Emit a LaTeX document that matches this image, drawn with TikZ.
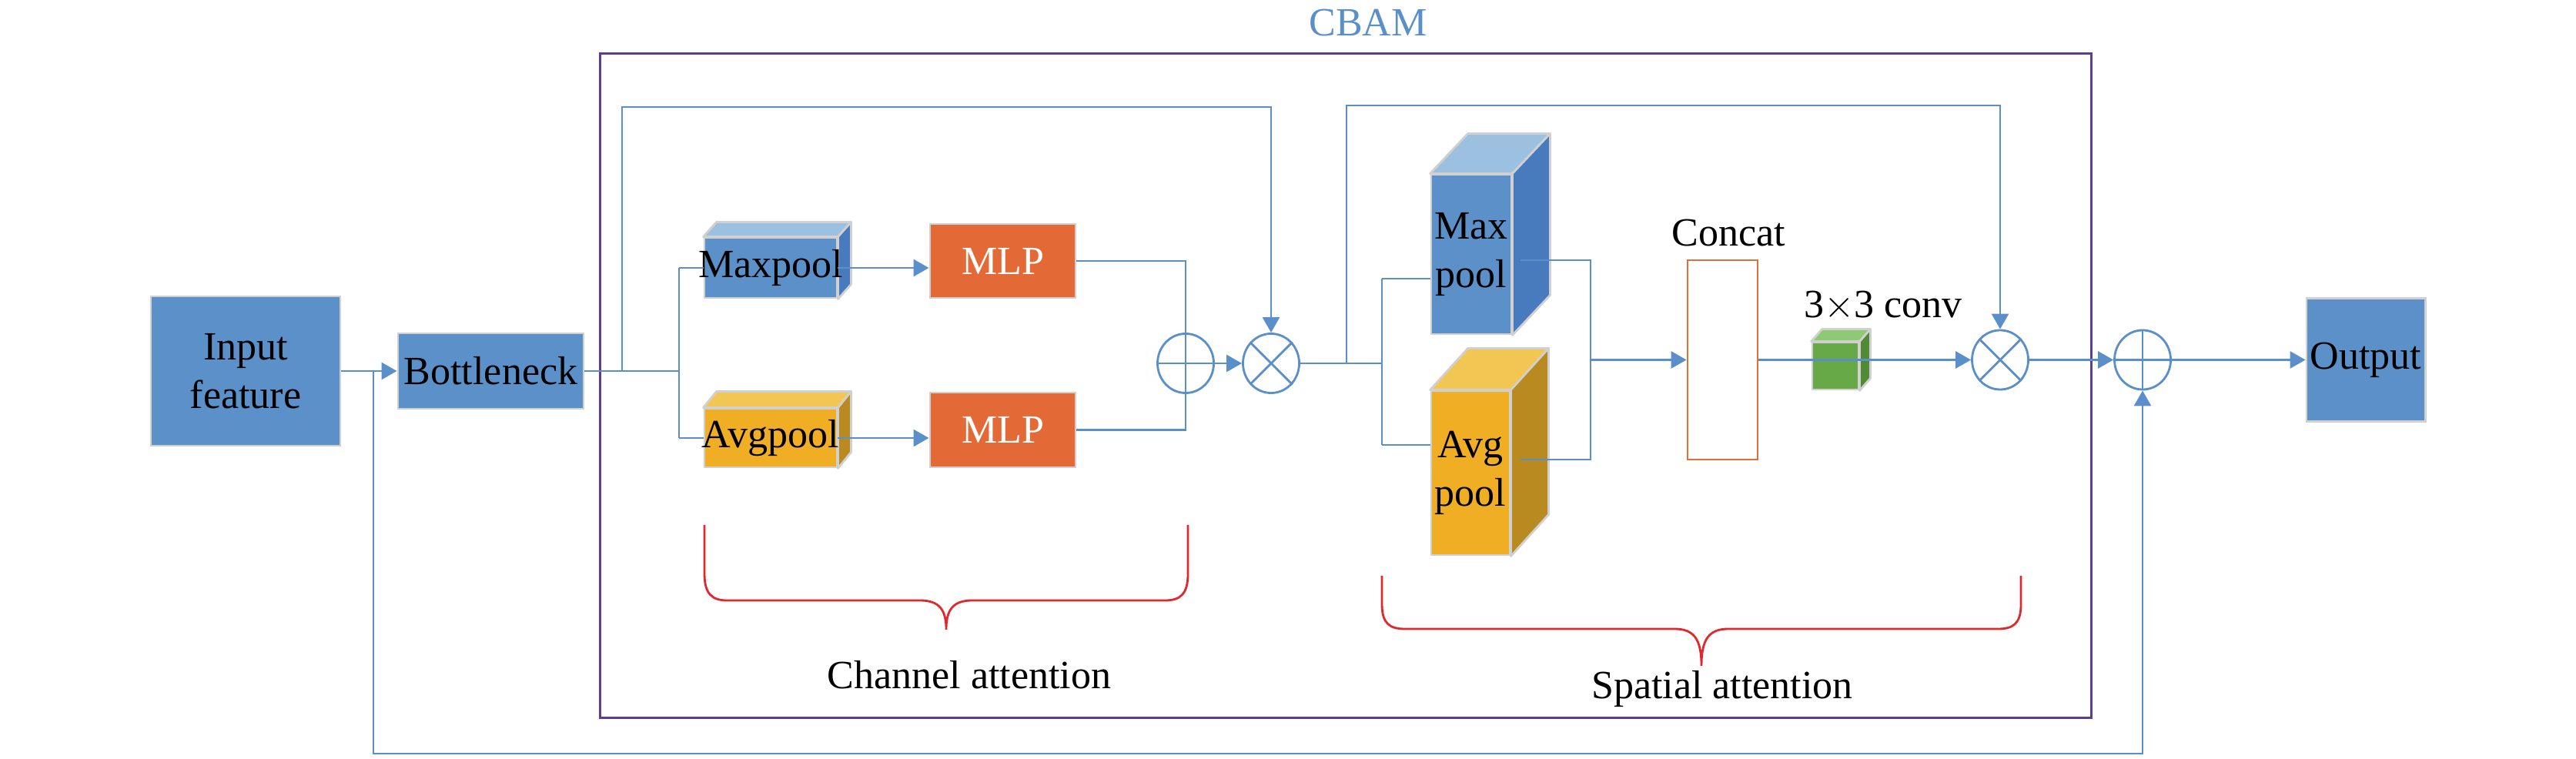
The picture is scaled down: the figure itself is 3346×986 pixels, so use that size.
\documentclass[tikz,border=0pt]{standalone}
\usepackage{fontspec}
\setmainfont{Liberation Serif}
\usetikzlibrary{arrows.meta,shapes.geometric}
\definecolor{conn}{RGB}{91,143,201}
\definecolor{boxblue}{RGB}{92,144,200}
\definecolor{bluef}{RGB}{92,144,200}
\definecolor{bluet}{RGB}{155,192,224}
\definecolor{blues}{RGB}{72,122,190}
\definecolor{yelf}{RGB}{240,174,36}
\definecolor{yelt}{RGB}{242,198,82}
\definecolor{yels}{RGB}{184,138,32}
\definecolor{grnf}{RGB}{103,169,71}
\definecolor{grnt}{RGB}{142,201,117}
\definecolor{grns}{RGB}{80,138,53}
\definecolor{mlpc}{RGB}{227,106,54}
\definecolor{edgegray}{RGB}{208,208,208}
\definecolor{cbamc}{RGB}{96,60,142}
\definecolor{bracec}{RGB}{225,40,45}
\definecolor{concatc}{RGB}{224,112,58}
\newcommand{\mycube}[9]{%
  \node[face,fill=#8f,minimum width=#4,minimum height=#5,inner sep=0pt] (#1) at (#2,#3) {};
  \filldraw[face,fill=#8t] (#1.north west) -- ([shift={(#6,-#7)}]#1.north west) -- ([shift={(#6,-#7)}]#1.north east) -- (#1.north east) -- cycle;
  \filldraw[face,fill=#8s] (#1.north east) -- ([shift={(#6,-#7)}]#1.north east) -- ([shift={(#6,-#7)}]#1.south east) -- (#1.south east) -- cycle;
  \node[align=center,inner sep=0pt] at (#1.center) {#9};
}
\begin{document}
\begin{tikzpicture}[x=0.01cm,y=-0.01cm,
  font=\fontsize{14.8pt}{18pt}\selectfont,
  conn/.style={draw=conn,line width=0.8pt},
  arr/.style={conn,-{Triangle[length=0.2cm,width=0.22cm]}},
  flatbox/.style={draw=edgegray,line width=0.8pt,fill=boxblue,inner sep=0pt,align=center},
  face/.style={draw=edgegray,line width=0.8pt,line join=round},
  opnode/.style={ellipse,draw=conn,line width=0.8pt,minimum width=0.73cm,minimum height=0.77cm,inner sep=0pt,fill=white},
  bracestyle/.style={draw=bracec,line width=0.8pt},
]
\useasboundingbox (0,0) rectangle (3346,986);

% CBAM frame
\node[draw=cbamc,line width=0.9pt,minimum width=19.36cm,minimum height=8.62cm,inner sep=0pt] (frame) at (1748,501) {};
\node[text=conn] (cbamlbl) at (1777,30) {CBAM};

% main boxes
\node[flatbox,minimum width=2.46cm,minimum height=1.94cm] (inp) at (319,482) {Input\\feature};
\node[flatbox,minimum width=2.41cm,minimum height=0.98cm] (bott) at (637.5,482) {Bottleneck};
\node[flatbox,minimum width=1.54cm,minimum height=1.60cm] (out) at (3073,467.5) {Output};

% channel attention cubes
\mycube{mp1}{1001}{348}{1.72cm}{0.78cm}{17}{19}{blue}{Maxpool}
\mycube{ap1}{1001}{569}{1.72cm}{0.76cm}{17}{21}{yel}{Avgpool}
\node[flatbox,fill=mlpc,text=white,minimum width=1.89cm,minimum height=0.96cm] (mlp1) at (1302.5,339) {MLP};
\node[flatbox,fill=mlpc,text=white,minimum width=1.89cm,minimum height=0.97cm] (mlp2) at (1302.5,558.5) {MLP};

% spatial cubes
\mycube{smp}{1911}{330.5}{1.04cm}{2.07cm}{49}{52}{blue}{Max\\pool}
\mycube{sap}{1910}{614.5}{1.02cm}{2.13cm}{49}{54}{yel}{Avg\\pool}
\node[draw=concatc,line width=0.8pt,fill=white,minimum width=0.91cm,minimum height=2.59cm,inner sep=0pt] (concat) at (2237.5,467.5) {};
\node (concatlbl) at (2245,303) {Concat};
\mycube{conv}{2384}{475.5}{0.60cm}{0.61cm}{14}{16}{grn}{}
\node (convlbl) at (2446,397) {3$\times$3 conv};

% operators
\node[opnode] (cadd) at (1540,472) {};
\node[opnode] (cmul) at (1651,472) {};
\node[opnode] (smul) at (2598,467.5) {};
\node[opnode] (fadd) at (2783,467.5) {};
\draw[conn] (cadd.north) -- (cadd.south) (cadd.west) -- (cadd.east);
\draw[conn] (fadd.north) -- (fadd.south) (fadd.west) -- (fadd.east);
\draw[conn] (cmul.45) -- (cmul.225) (cmul.135) -- (cmul.315);
\draw[conn] (smul.45) -- (smul.225) (smul.135) -- (smul.315);

% coordinates
\coordinate (bl) at (485,482);
\coordinate (bl2) at (485,979);
\coordinate (b1) at (882,482);
\coordinate (s1) at (808,482);
\coordinate (top1) at (808,139);
\coordinate (b2) at (1795,472);
\coordinate (bm) at (1795,362);
\coordinate (ba) at (1795,578);
\coordinate (s2) at (1749,472);
\coordinate (top2) at (1749,137);
\coordinate (m2) at (2066,338);
\coordinate (a2) at (2066,597);
\coordinate (c2) at (2066,467.5);

% connectors
\draw[arr] (inp.east) -- (bott.west);
\draw[arr] (bl) -- (bl2) -| (fadd.south);
\draw[conn] (bott.east) -- (b1);
\draw[conn] (b1 |- mp1.west) -- (b1 |- ap1.west);
\draw[conn] (b1 |- mp1.west) -- (mp1.west);
\draw[conn] (b1 |- ap1.west) -- (ap1.west);
\draw[arr] (s1) -- (top1) -| (cmul.north);
\draw[arr] (mp1.east) -- (mp1.east -| mlp1.west);
\draw[arr] (ap1.east) -- (ap1.east -| mlp2.west);
\draw[conn] (mlp1.east) -| (cadd.north);
\draw[conn] (mlp2.east) -| (cadd.south);
\draw[arr] (cadd.east) -- (cmul.west);
\draw[conn] (cmul.east) -- (b2);
\draw[conn] (bm) -- (ba);
\draw[conn] (bm) -- (bm -| smp.west);
\draw[conn] (ba) -- (ba -| sap.west);
\draw[arr] (s2) -- (top2) -| (smul.north);
\draw[conn] ([xshift=0.11cm]m2 -| smp.east) -- (m2) -- (a2) -- ([xshift=0.13cm]a2 -| sap.east);
\draw[arr] (c2) -- (concat.west);
\draw[arr] (concat.east) -- (smul.west);
\draw[arr] (smul.east) -- (fadd.west);
\draw[arr] (fadd.east) -- (out.west);

% braces
\draw[bracestyle] (915,682) -- (915,745) .. controls (915,772) and (925,780) .. (945,780) -- (1195,780) .. controls (1220,780) and (1229,792) .. (1229,818) .. controls (1229,792) and (1238,780) .. (1263,780) -- (1513,780) .. controls (1533,780) and (1543,772) .. (1543,745) -- (1543,682);
\draw[bracestyle] (1795,748) -- (1795,785) .. controls (1795,810) and (1805,817) .. (1825,817) -- (2175,817) .. controls (2200,817) and (2210,830) .. (2210,865) .. controls (2210,830) and (2220,817) .. (2245,817) -- (2595,817) .. controls (2615,817) and (2625,810) .. (2625,785) -- (2625,748);
\node (chlbl) at (1259,877) {Channel attention};
\node (splbl) at (2237,895) {Spatial attention};
\end{tikzpicture}
\end{document}
